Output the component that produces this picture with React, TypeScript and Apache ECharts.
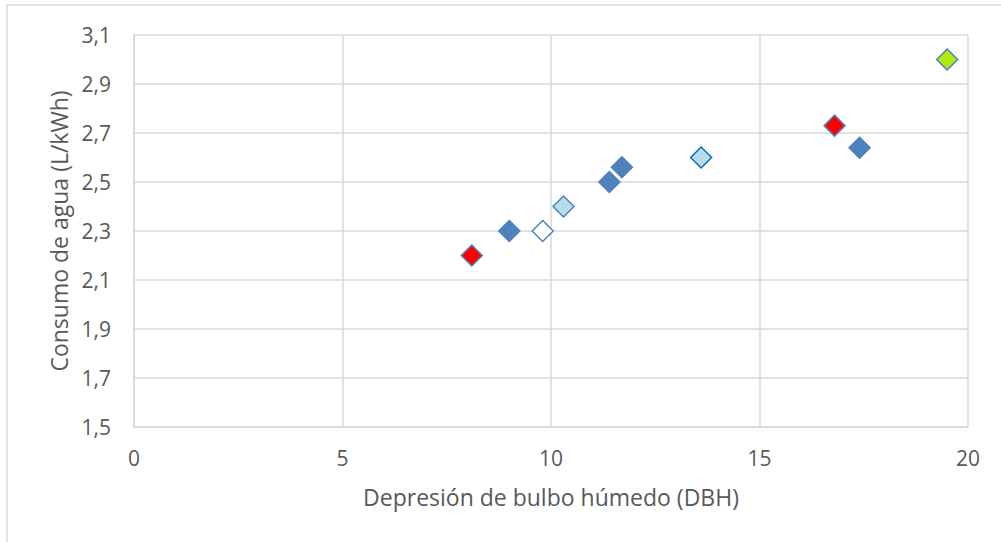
import React, { useEffect, useRef } from "react";
import * as echarts from "echarts";

const xValues = [8.1, 9.0, 9.8, 10.3, 11.4, 11.7, 13.6, 16.8, 17.4, 19.5];
const yValues = [2.2, 2.3, 2.3, 2.4, 2.5, 2.56, 2.6, 2.73, 2.64, 3.0];
const fills = ["#ff0000", "#4f81bd", "#ffffff", "#b7dde8", "#4f81bd", "#4f81bd", "#b7dde8", "#ff0000", "#4f81bd", "#acea10"];
const borders = ["#4f81bd", "#4f81bd", "#4f81bd", "#4f81bd", "#4f81bd", "#4f81bd", "#0070c0", "#4f81bd", "#4f81bd", "#4f81bd"];

const xTitle = "Depresión de bulbo húmedo (DBH)";
const yTitle = "Consumo de agua (L/kWh)";

const FONT = "'Open Sans', sans-serif";

export default function App() {
  const ref = useRef<HTMLDivElement>(null);
  useEffect(() => {
    if (!ref.current) return;
    const chart = echarts.init(ref.current, undefined, { renderer: "svg" });
    const data = xValues.map((x, i) => ({
      value: [x, yValues[i]],
      itemStyle: { color: fills[i], borderColor: borders[i], borderWidth: 1.5, opacity: 1 },
    }));
    chart.setOption({
      animation: false,
      backgroundColor: "#ffffff",
      textStyle: { fontFamily: FONT },
      grid: { left: 134, right: 33, top: 35, bottom: 115 },
      graphic: [
        {
          type: "rect",
          shape: { x: 7, y: 5, width: 1010, height: 560 },
          style: { fill: "none", stroke: "#d9d9d9", lineWidth: 1.5 },
          silent: true,
        },
      ],
      xAxis: {
        type: "value",
        min: 0,
        max: 20,
        interval: 5,
        name: xTitle,
        nameLocation: "middle",
        nameGap: 58,
        nameTextStyle: { fontSize: 23, color: "#595959", fontFamily: FONT },
        axisLine: { show: true, lineStyle: { color: "#d9d9d9", width: 1.5 } },
        axisTick: { show: false },
        axisLabel: { fontSize: 21, color: "#595959", margin: 20, fontFamily: FONT },
        splitLine: { show: true, lineStyle: { color: "#d9d9d9", width: 1.5 } },
      },
      yAxis: {
        type: "value",
        min: 1.5,
        max: 3.1,
        interval: 0.2,
        name: yTitle,
        nameLocation: "middle",
        nameGap: 64,
        nameTextStyle: { fontSize: 23, color: "#595959", fontFamily: FONT },
        axisLine: { show: true, lineStyle: { color: "#d9d9d9", width: 1.5 } },
        axisTick: { show: false },
        axisLabel: {
          fontSize: 21,
          color: "#595959",
          margin: 23,
          fontFamily: FONT,
          formatter: (v: number) => v.toFixed(1).replace(".", ","),
        },
        splitLine: { show: true, lineStyle: { color: "#d9d9d9", width: 1.5 } },
      },
      series: [
        {
          type: "scatter",
          symbol: "diamond",
          symbolSize: 21,
          itemStyle: { opacity: 1 },
          emphasis: { disabled: true },
          data,
        },
      ],
    });
    return () => chart.dispose();
  }, []);
  return (
    <div
      ref={ref}
      style={{ position: "fixed", left: 0, top: 0, width: 1001, height: 542 }}
    />
  );
}
